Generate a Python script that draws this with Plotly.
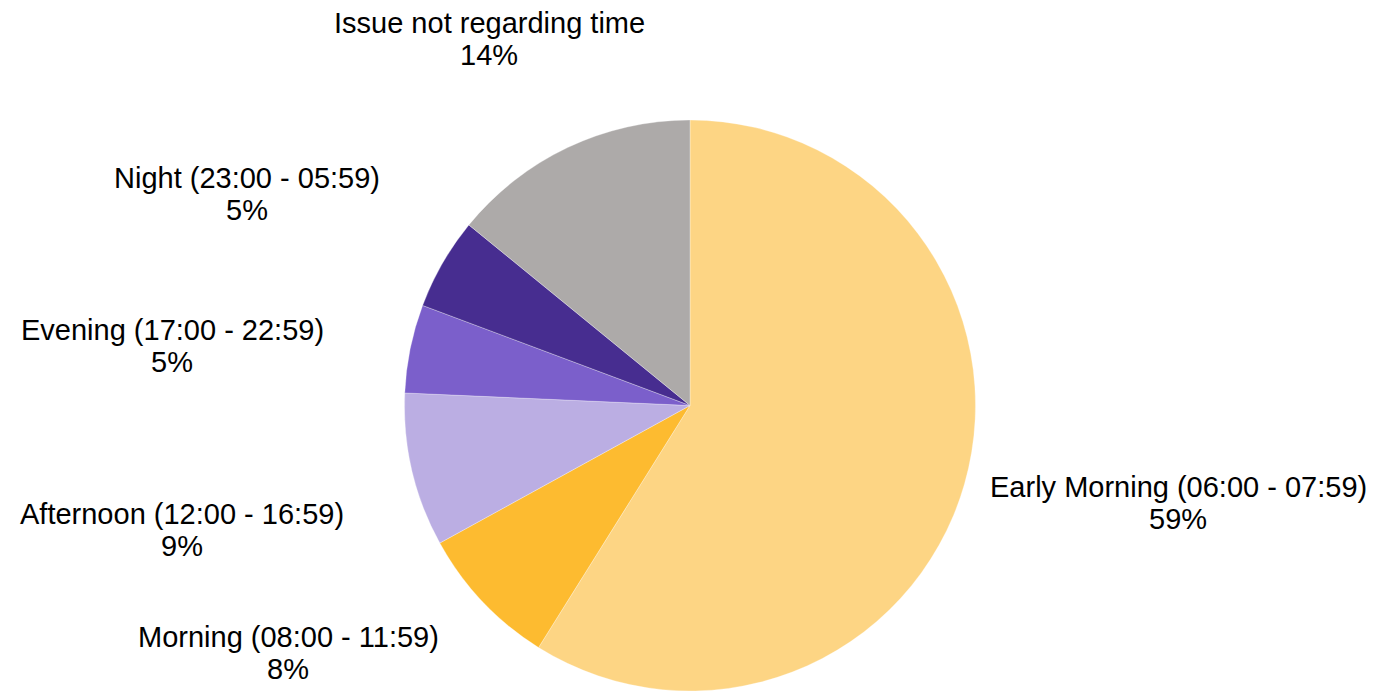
import plotly.graph_objects as go

categories = [
    "Early Morning (06:00 - 07:59)",
    "Morning (08:00 - 11:59)",
    "Afternoon (12:00 - 16:59)",
    "Evening (17:00 - 22:59)",
    "Night (23:00 - 05:59)",
    "Issue not regarding time",
]
values = [58.9, 8.1, 8.7, 5.0, 5.2, 14.1]
colors = ["#FDD584", "#FDBB30", "#BBAEE3", "#7B5FCB", "#472D90", "#ADAAA9"]

# label line-centre positions in pixels (name line, percent line follows below)
W, H = 1376, 691
label_pos = [(1178, 487), (288, 637), (182, 514), (172, 330), (247, 178), (489, 23)]
line_gap = 32
font = dict(family="Liberation Sans, Arial, sans-serif", size=29, color="#000000")

fig = go.Figure(go.Pie(
    labels=categories,
    values=values,
    sort=False,
    direction="clockwise",
    rotation=0,
    marker=dict(colors=colors, line=dict(color="rgba(255,255,255,0.6)", width=0.5)),
    textinfo="none",
    hoverinfo="label+percent",
    showlegend=False,
    domain=dict(x=[0.2834, 0.7195], y=[0, 1 - 120 / H]),
))

total = sum(values)
annotations = []
for cat, v, (px, py) in zip(categories, values, label_pos):
    pct = f"{round(v / total * 100)}%"
    for i, txt in enumerate([cat, pct]):
        annotations.append(dict(
            text=txt, x=px / W, y=1 - (py + i * line_gap) / H,
            xref="paper", yref="paper", xanchor="center", yanchor="middle",
            showarrow=False, font=font,
        ))

fig.update_layout(
    width=W, height=H,
    margin=dict(l=0, r=0, t=0, b=0),
    paper_bgcolor="white", plot_bgcolor="white",
    annotations=annotations,
)
fig.write_html("out.html", config={"displayModeBar": False},
               post_script="document.body.style.margin='0';")
